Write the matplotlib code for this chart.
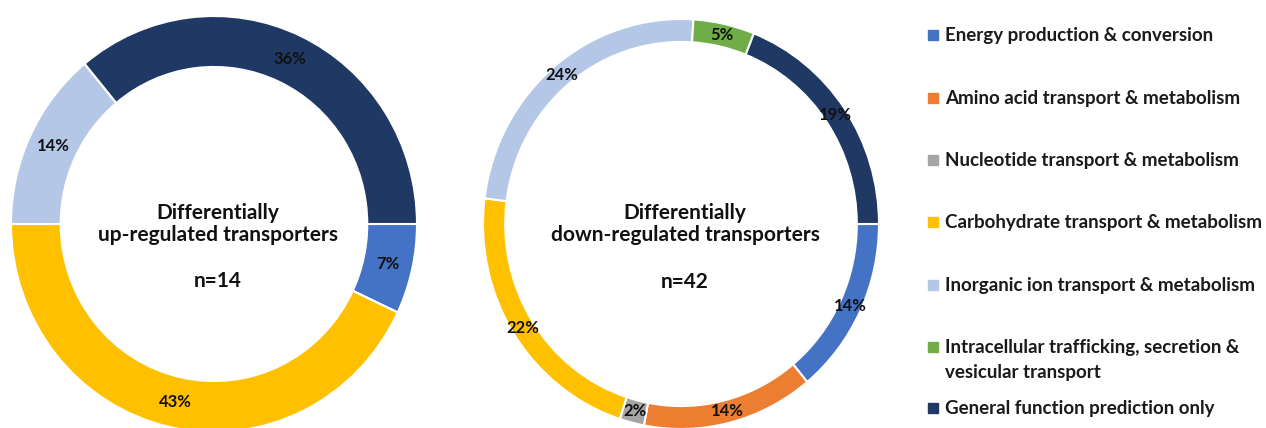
import numpy as np
import matplotlib
matplotlib.use("Agg")
from matplotlib import pyplot as plt

# categories / colours (Office palette)
categories = ["Energy production & conversion",
              "Amino acid transport & metabolism",
              "Nucleotide transport & metabolism",
              "Carbohydrate transport & metabolism",
              "Inorganic ion transport & metabolism",
              "Intracellular trafficking, secretion &\nvesicular transport",
              "General function prediction only"]
colors = ["#4472C4", "#ED7D31", "#A5A5A5", "#FFC000", "#B4C7E7", "#70AD47", "#203864"]

# percentages
up_pct = [7, 0, 0, 43, 14, 0, 36]
down_pct = [14, 14, 2, 22, 24, 5, 19]
up_n = 14
down_n = 42

W, H = 1266, 428
plt.rcParams['font.family'] = ['Lato', 'DejaVu Sans']
fig = plt.figure(figsize=(W / 100, H / 100), dpi=100)


def px_axes(x0, x1, yc, ry):
    # axes placed by pixel box, y measured from the top
    return fig.add_axes([x0 / W, (H - (yc + ry)) / H, (x1 - x0) / W, 2 * ry / H])


def donut(ax, vals, width, title, n, tx, ny):
    wedges, _ = ax.pie(vals, colors=colors, startangle=0, counterclock=False,
                       radius=1.0, wedgeprops=dict(width=width, edgecolor="white", linewidth=1.5))
    r = 1.0 - width / 2
    for w, v in zip(wedges, vals):
        if v == 0:
            continue
        a = np.deg2rad((w.theta1 + w.theta2) / 2)
        ax.text(r * np.cos(a), r * np.sin(a), f"{v}%", ha="center", va="center",
                fontsize=12, fontweight="bold", color="#111111")
    ax.text(tx, 0.0, title, ha="center", va="center", fontsize=15,
            fontweight="bold", color="#111111", linespacing=1.1)
    ax.text(tx, ny, f"n={n}", ha="center", va="center", fontsize=15,
            fontweight="bold", color="#111111")
    ax.set_aspect("auto")
    ax.set_xlim(-1, 1)
    ax.set_ylim(-1, 1)
    ax.axis("off")


ax1 = px_axes(11, 417, 224, 208)
donut(ax1, up_pct, 0.245, "Differentially\nup-regulated transporters", up_n, 0.02, -0.275)

ax2 = px_axes(483, 879, 224, 205)
donut(ax2, down_pct, 0.112, "Differentially\ndown-regulated transporters", down_n, 0.02, -0.285)

# legend drawn by hand so the two-line entry lines up like the original
row_y = [35, 98, 160, 222, 285, 347, 408]
for lab, c, y in zip(categories, colors, row_y):
    fig.patches.append(plt.Rectangle((928 / W, 1 - (y + 5) / H), 10 / W, 10 / H,
                                     transform=fig.transFigure, color=c))
    fig.text(945 / W, 1 - (y - 8) / H, lab, ha="left", va="top", fontsize=13.5,
             fontweight="bold", color="#1a1a1a", linespacing=1.6)

fig.savefig("out.png", dpi=100)
